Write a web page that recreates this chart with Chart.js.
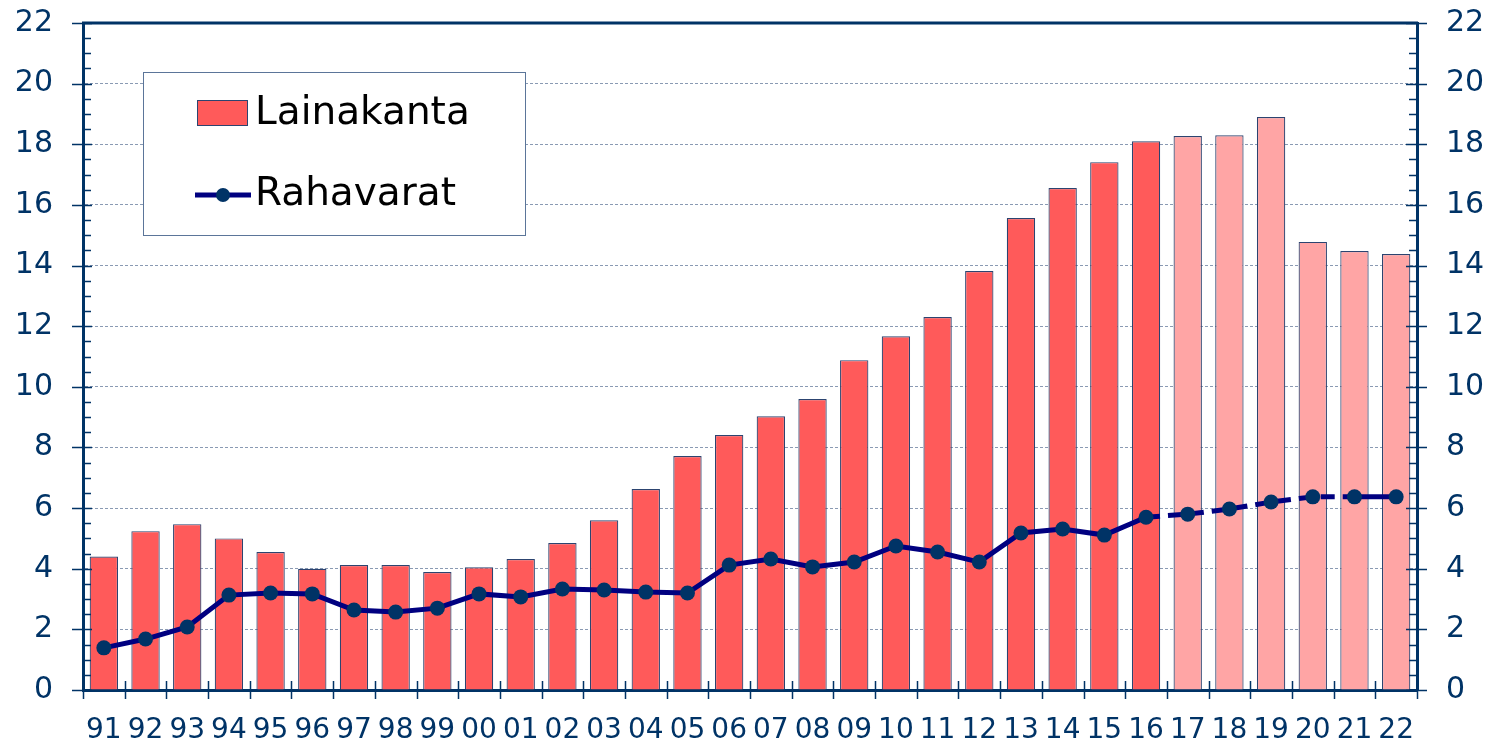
<!DOCTYPE html>
<html>
<head>
<meta charset="utf-8">
<script src="https://cdn.jsdelivr.net/npm/chart.js@4.4.0/dist/chart.umd.min.js"></script>
<style>
  html, body { margin: 0; padding: 0; background: #fff; }
  #wrap { width: 1493px; height: 744px; }
</style>
</head>
<body>
<div id="wrap"><canvas id="chart"></canvas></div>
<script>
const years = ["91","92","93","94","95","96","97","98","99","00","01","02","03","04","05","06","07","08","09","10","11","12","13","14","15","16","17","18","19","20","21","22"];
const lainakanta = [4.4,5.24,5.47,5.0,4.55,4.0,4.12,4.12,3.89,4.05,4.32,4.85,5.6,6.63,7.72,8.41,9.03,9.6,10.88,11.67,12.3,13.82,15.57,16.56,17.41,18.1,18.27,18.3,18.9,14.78,14.48,14.38];
const rahavarat = [1.39,1.68,2.08,3.13,3.2,3.17,2.64,2.57,2.7,3.17,3.07,3.33,3.3,3.23,3.2,4.12,4.32,4.06,4.22,4.75,4.55,4.22,5.18,5.31,5.11,5.7,5.8,5.97,6.2,6.37,6.37,6.37];
const firstForecast = 26; // 17 onwards is forecast
const yTicks = [0,2,4,6,8,10,12,14,16,18,20,22];

const navy = "#003366";
const fontFam = "'DejaVu Sans', Verdana, sans-serif";

// tick marks, top border and the legend box
const extras = {
  id: "extras",
  afterDraw(chart) {
    const c = chart.ctx;
    const a = chart.chartArea;
    const y = chart.scales.y;
    const x = chart.scales.x;
    c.save();
    c.strokeStyle = navy;
    c.lineWidth = 1.5;
    c.beginPath();
    for (let v = 0; v <= 22; v += 0.5) {
      const py = Math.round(y.getPixelForValue(v)) + 0.5;
      if (v % 2 === 0) {
        c.moveTo(a.left - 11, py); c.lineTo(a.left + 9, py);
        c.moveTo(a.right - 11, py); c.lineTo(a.right + 10, py);
      } else {
        c.moveTo(a.left, py); c.lineTo(a.left + 8, py);
        c.moveTo(a.right - 8, py); c.lineTo(a.right, py);
      }
    }
    for (let i = 0; i <= years.length; i++) {
      const px = Math.round(x.getPixelForValue(i - 0.5)) + 0.5;
      c.moveTo(px, a.bottom - 9); c.lineTo(px, a.bottom + 9);
    }
    c.stroke();
    c.lineWidth = 3;
    c.beginPath();
    c.moveTo(a.left - 1, a.top); c.lineTo(a.right + 1, a.top);
    c.stroke();

    // legend
    const lx = a.left + 60, ly = a.top + 49;
    c.fillStyle = "#fff";
    c.fillRect(lx, ly, 382, 163);
    c.strokeStyle = "#5b7599";
    c.lineWidth = 1;
    c.strokeRect(lx + 0.5, ly + 0.5, 382, 163);
    c.fillStyle = "#FF5A5A";
    c.fillRect(lx + 54, ly + 28, 50, 25);
    c.strokeStyle = "#2c4470";
    c.strokeRect(lx + 54.5, ly + 28.5, 50, 25);
    c.strokeStyle = "#000080";
    c.lineWidth = 5;
    c.beginPath();
    c.moveTo(lx + 52, ly + 123); c.lineTo(lx + 108, ly + 123);
    c.stroke();
    c.fillStyle = navy;
    c.beginPath();
    c.arc(lx + 80, ly + 123, 7, 0, Math.PI * 2);
    c.fill();
    c.fillStyle = "#000";
    c.font = "39px " + fontFam;
    c.textBaseline = "middle";
    c.fillText(chart.data.datasets[1].label, lx + 112, ly + 42);
    c.fillText(chart.data.datasets[0].label, lx + 112, ly + 123);
    c.restore();
  }
};

const yFont = { family: fontFam, size: 30 };
const xFont = { family: fontFam, size: 28 };

new Chart(document.getElementById("chart"), {
  data: {
    labels: years,
    datasets: [
      {
        type: "line",
        label: "Rahavarat",
        data: rahavarat,
        order: 0,
        borderColor: "#000080",
        borderWidth: 5,
        pointRadius: 7.5,
        pointBackgroundColor: navy,
        pointBorderWidth: 0,
        tension: 0,
        segment: {
          borderDash: ctx => (ctx.p0DataIndex >= firstForecast - 1 && ctx.p0DataIndex < years.length - 2) ? [14, 8] : undefined
        }
      },
      {
        type: "bar",
        label: "Lainakanta",
        data: lainakanta,
        order: 1,
        backgroundColor: lainakanta.map((v, i) => i >= firstForecast ? "#FFA5A5" : "#FF5A5A"),
        borderColor: "#2c4470",
        borderWidth: 1.2,
        borderSkipped: "bottom",
        barPercentage: 0.68,
        categoryPercentage: 1
      }
    ]
  },
  options: {
    responsive: true,
    maintainAspectRatio: false,
    animation: false,
    events: [],
    layout: { padding: { top: 23, left: 0, right: 0, bottom: 0 } },
    plugins: { legend: { display: false }, tooltip: { enabled: false } },
    scales: {
      x: {
        offset: true,
        grid: { display: false, drawTicks: false },
        border: { color: navy, width: 3 },
        ticks: { color: navy, font: xFont, padding: 24, maxRotation: 0, autoSkip: false },
        afterFit: s => { s.height = 54; }
      },
      y: {
        position: "left",
        min: 0, max: 22,
        afterBuildTicks: s => { s.ticks = yTicks.map(v => ({ value: v })); },
        afterFit: s => { s.width = 83; s.paddingTop = 0; s.paddingBottom = 0; },
        grid: {
          drawTicks: false,
          color: ctx => (ctx.tick && (ctx.tick.value === 0 || ctx.tick.value === 22)) ? "rgba(0,0,0,0)" : "#8a9ab3",
          lineWidth: 1
        },
        border: { color: navy, width: 3, dash: [3, 2] },
        ticks: { color: navy, font: yFont, padding: 30 }
      },
      y2: {
        position: "right",
        min: 0, max: 22,
        afterBuildTicks: s => { s.ticks = yTicks.map(v => ({ value: v })); },
        afterFit: s => { s.width = 76; s.paddingTop = 0; s.paddingBottom = 0; },
        grid: { drawOnChartArea: false, drawTicks: false },
        border: { color: navy, width: 3 },
        ticks: { color: navy, font: yFont, padding: 29 }
      }
    }
  },
  plugins: [extras]
});
</script>
</body>
</html>
